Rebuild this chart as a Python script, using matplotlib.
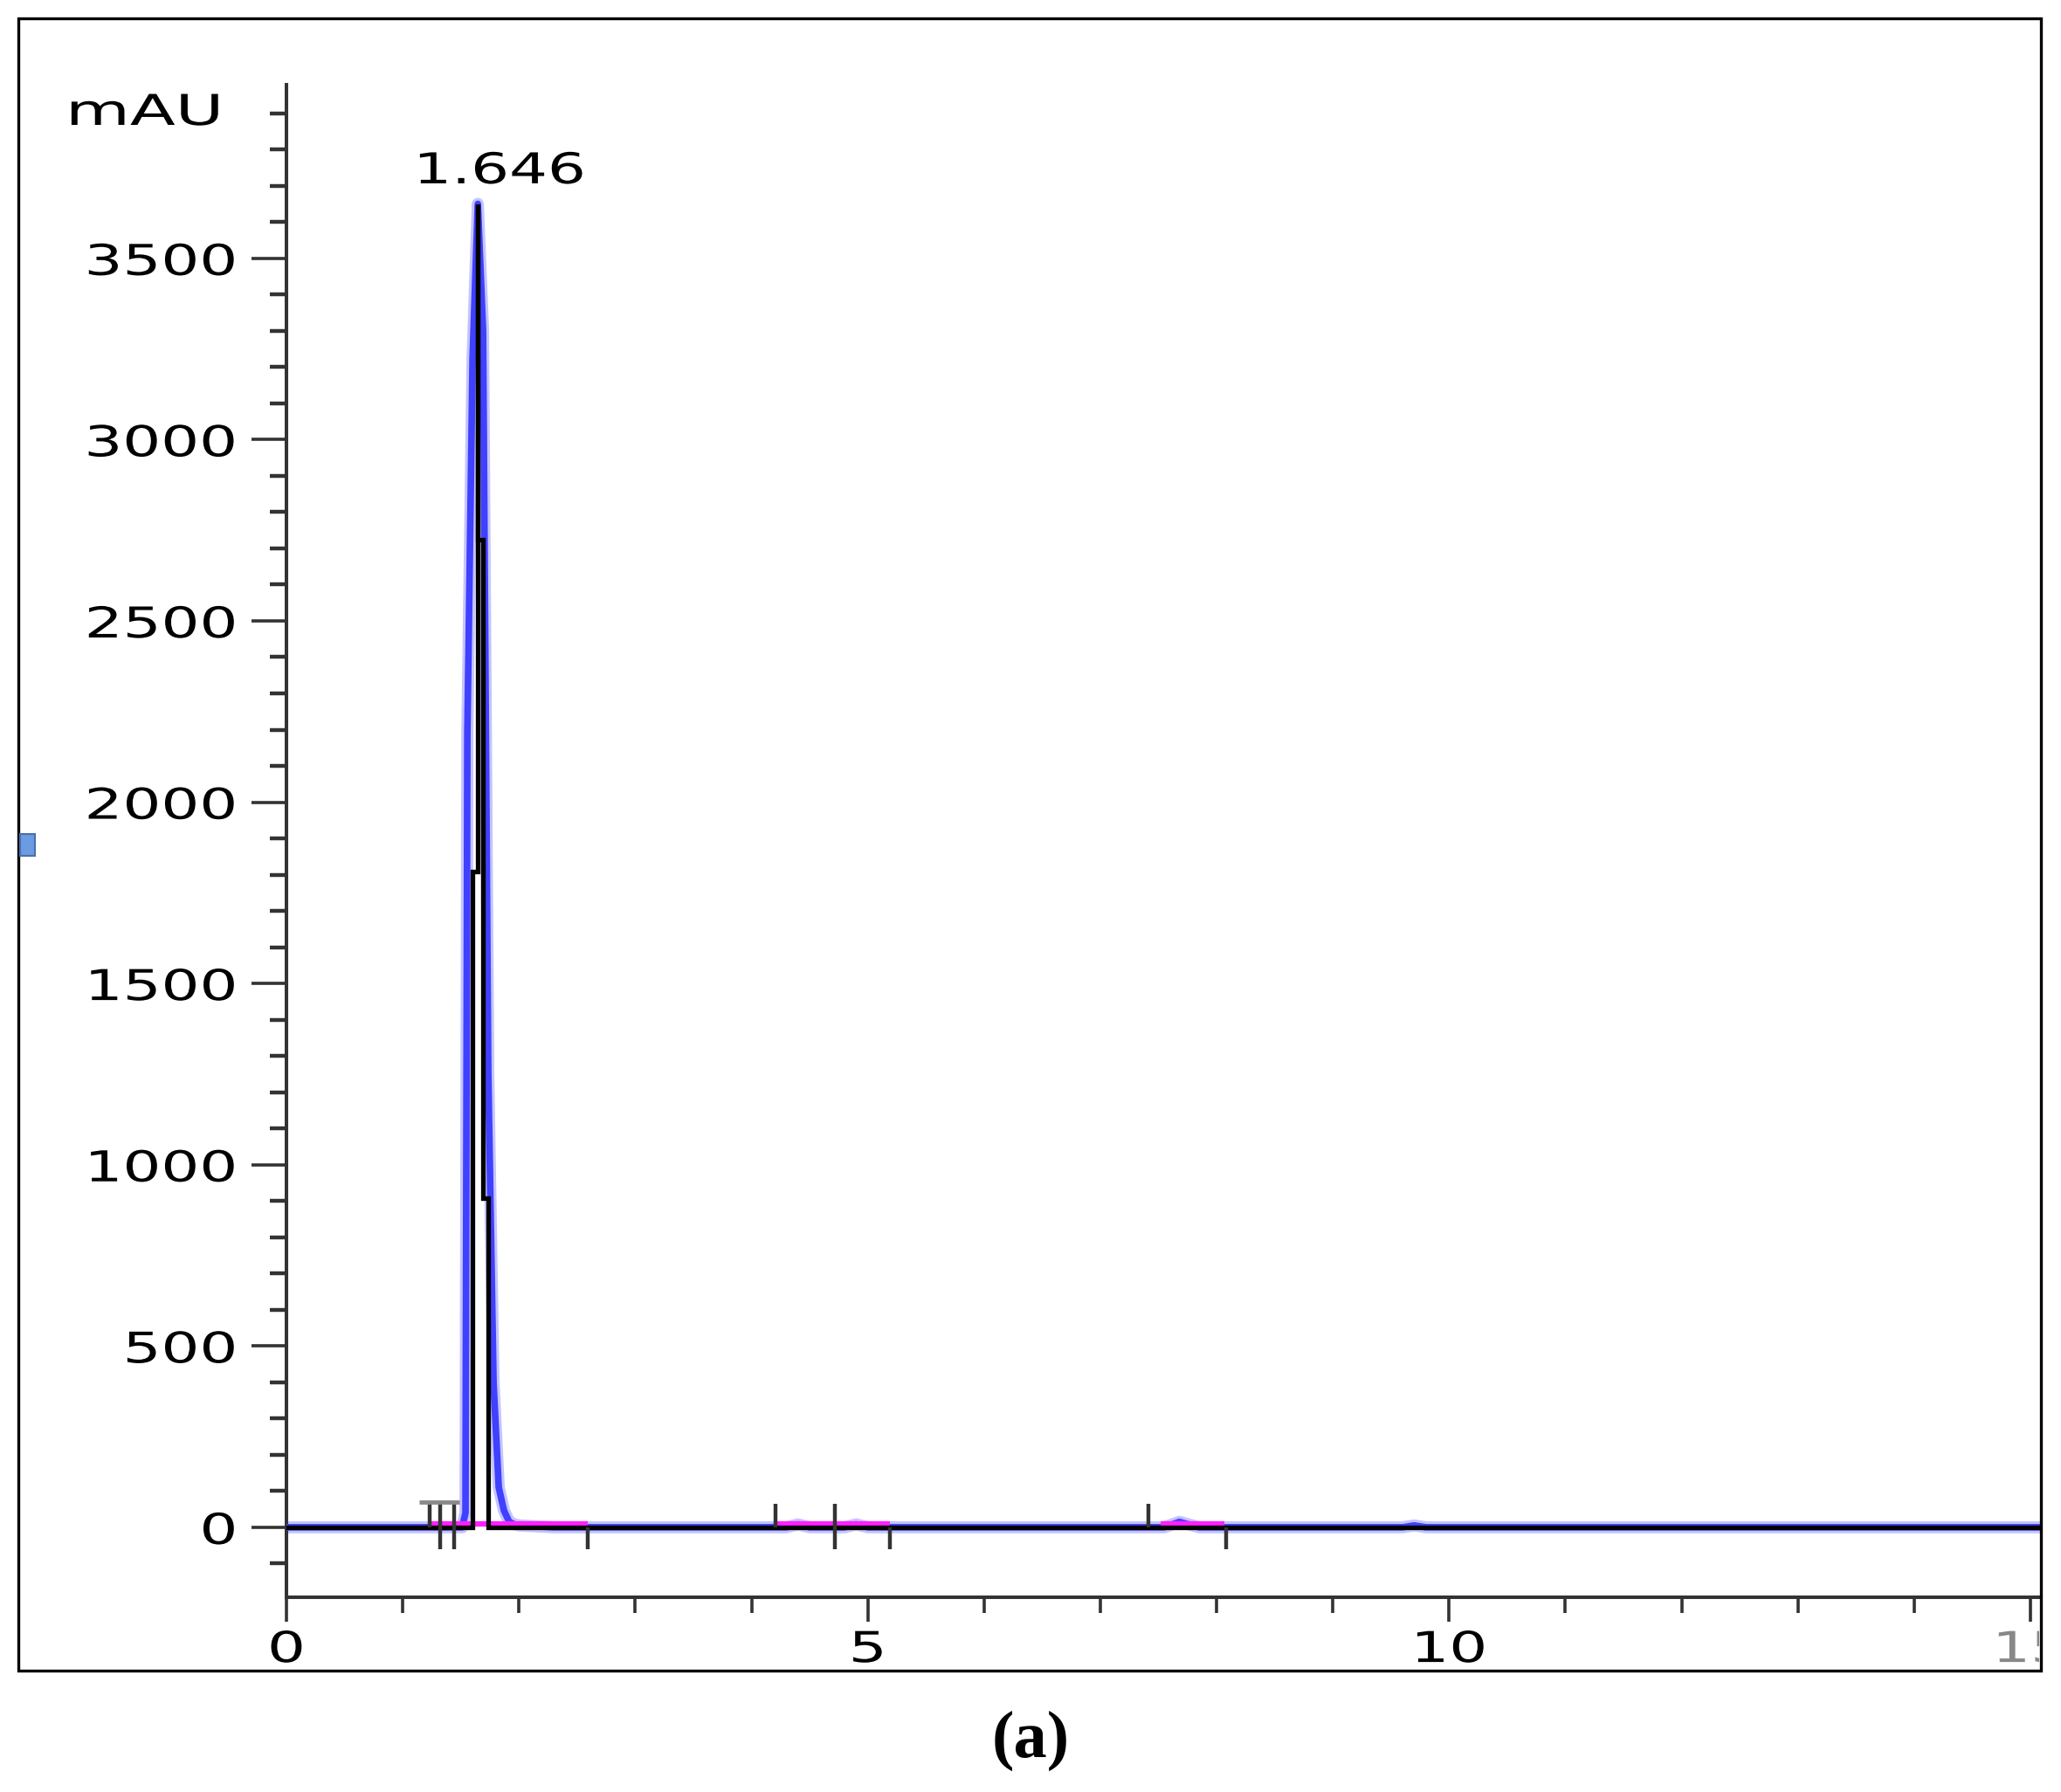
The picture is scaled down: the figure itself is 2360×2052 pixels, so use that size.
import matplotlib
matplotlib.use('Agg')
import matplotlib.pyplot as plt
import matplotlib.transforms as mtransforms
from matplotlib import patheffects
from matplotlib.patches import Rectangle
from matplotlib.ticker import MultipleLocator

# detector samples around the main peak (minutes / mAU), black trace
black_t = [0.0, 1.556, 1.601, 1.646, 1.691, 1.736, 1.781, 15.1]
black_mau = [0, 0, 1809, 3650, 2724, 908, 0, 0]

# second trace (blue), same sampling around the peak plus small bumps later on
blue_t = [0.0, 1.511, 1.540, 1.556, 1.601, 1.646, 1.691, 1.736, 1.781, 1.826, 1.871,
          1.916, 1.961, 2.006, 2.30, 4.30, 4.40, 4.50, 4.80, 4.90, 5.00,
          7.55, 7.68, 7.85, 9.60, 9.70, 9.80, 15.1]
blue_mau = [0, 0, 40, 2190, 3225, 3650, 3300, 1250, 400, 110, 46,
            15, 8, 5, 0, 0, 8, 0, 0, 8, 0,
            0, 15, 0, 0, 5, 0, 0]

# integrated baseline segments (magenta)
seg_start = [1.24, 4.21, 7.52]
seg_end = [2.59, 5.19, 8.07]

# event marks on the baseline
up_marks = [1.23, 1.32, 1.44, 4.21, 4.72, 7.41]
down_marks = [1.32, 1.44, 2.59, 4.72, 5.19, 8.08]

peak_rt = 1.646
peak_height = 3650

W, H = 2360, 2052
DPI = 100
FS = 35
plt.rcParams['font.family'] = ['DejaVu Sans']


class WideText(patheffects.AbstractPathEffect):
    """Stretch a text sideways about its anchor point (the screen font is wide)."""

    def __init__(self, text, sx):
        super().__init__()
        self.text = text
        self.sx = sx

    def draw_path(self, renderer, gc, tpath, affine, rgbFace=None):
        x0, _ = self.text.get_transform().transform(self.text.get_unitless_position())
        stretch = mtransforms.Affine2D().translate(-x0, 0).scale(self.sx, 1).translate(x0, 0)
        renderer.draw_path(gc, tpath, affine + stretch, rgbFace)


def widen(text, sx=1.42):
    text.set_path_effects([WideText(text, sx)])


def stepped(t, v):
    # screen-style trace: a rise is drawn in the column of the higher sample
    xs, ys = [t[0]], [v[0]]
    for i in range(len(t) - 1):
        if v[i + 1] >= v[i]:
            xs += [t[i + 1], t[i + 1]]
            ys += [v[i], v[i + 1]]
        else:
            xs += [t[i], t[i + 1]]
            ys += [v[i + 1], v[i + 1]]
    return xs, ys


fig = plt.figure(figsize=(W / DPI, H / DPI), dpi=DPI)

# axes placed in pixel terms: y axis at x=328, x axis line at y=1829
x_lo, x_hi = 0, 15.09
y_lo, y_hi = -193, 3980
left_px, right_px = 328, 2337
bot_px = 1829
top_px = 1749 - y_hi * 207.6 / 500
ax = fig.add_axes([left_px / W, 1 - bot_px / H,
                   (right_px - left_px) / W, (bot_px - top_px) / H])
ax.set_xlim(x_lo, x_hi)
ax.set_ylim(y_lo, y_hi)

# traces
ax.plot(blue_t, blue_mau, color='#c4c4ff', lw=10, zorder=2)
ax.plot(blue_t, blue_mau, color='#4040ff', lw=5.5, zorder=3)
for s, e in zip(seg_start, seg_end):
    ax.plot([s, e], [10, 10], color='#ff20ff', lw=4.5, solid_capstyle='butt', zorder=4)
kx, ky = stepped(black_t, black_mau)
ax.plot(kx, ky, color='black', lw=3.8, solid_joinstyle='miter', zorder=5)

# event marks
ax.vlines(up_marks, 0, 65, color='#333333', lw=3.2, zorder=6)
ax.vlines(down_marks, -60, 0, color='#333333', lw=3.2, zorder=6)
ax.hlines(70, 1.14, 1.49, color='#8a8a8a', lw=3.5, zorder=6)

lbl_off = mtransforms.ScaledTranslation(18 / 72, 17 / 72, fig.dpi_scale_trans)
peak_lbl = ax.text(peak_rt, peak_height, f'{peak_rt:.3f}', ha='center', va='baseline',
                   fontsize=FS, transform=ax.transData + lbl_off)
widen(peak_lbl)

# axis styling
for side in ['top', 'right']:
    ax.spines[side].set_visible(False)
for side in ['left', 'bottom']:
    ax.spines[side].set_color('#333333')
    ax.spines[side].set_linewidth(2.9)

ax.yaxis.set_major_locator(MultipleLocator(500))
ax.yaxis.set_minor_locator(MultipleLocator(100))
ax.xaxis.set_major_locator(MultipleLocator(5))
ax.xaxis.set_minor_locator(MultipleLocator(1))
ax.tick_params(axis='y', which='major', direction='out', length=29, width=2.6,
               color='#333333', pad=11, labelsize=FS)
ax.tick_params(axis='y', which='minor', direction='out', length=14, width=3.2,
               color='#333333')
ax.tick_params(axis='x', which='major', direction='out', length=20, width=2.6,
               color='#333333', pad=6, labelsize=FS)
ax.tick_params(axis='x', which='minor', direction='out', length=13, width=2.6,
               color='#333333')

# outer frame
frame = Rectangle((21 / W, 1 - 1913 / H), (2337 - 21) / W, (1913 - 21) / H,
                  transform=fig.transFigure, fill=False, lw=2.4, ec='black')
fig.patches.append(frame)

# small blue marker on the left edge
fig.patches.append(Rectangle((23 / W, 1 - 980 / H), 17 / W, 25 / H,
                             transform=fig.transFigure, fc='#6b9be3',
                             ec='#4a70aa', lw=1.5))

unit = fig.text(75 / W, 1 - 143 / H, 'mAU', ha='left', va='baseline', fontsize=FS)
widen(unit, 1.56)
fig.text(1180 / W, 1 - 1993 / H, '(a)', ha='center', va='center', fontsize=55,
         family='Liberation Serif', weight='bold')

# tick labels are wide too; the last x label is cut by the frame
fig.canvas.draw()
clip = mtransforms.TransformedBbox(
    mtransforms.Bbox([[21 / W, 1 - 1913 / H], [2335 / W, 1 - 21 / H]]),
    fig.transFigure)
for lbl in ax.get_yticklabels():
    widen(lbl)
for lbl in ax.get_xticklabels():
    widen(lbl)
    if lbl.get_text() == '15':
        lbl.set_color('#888888')
        lbl.set_clip_box(clip)
        lbl.set_clip_on(True)

fig.savefig('out.png', dpi=DPI)
